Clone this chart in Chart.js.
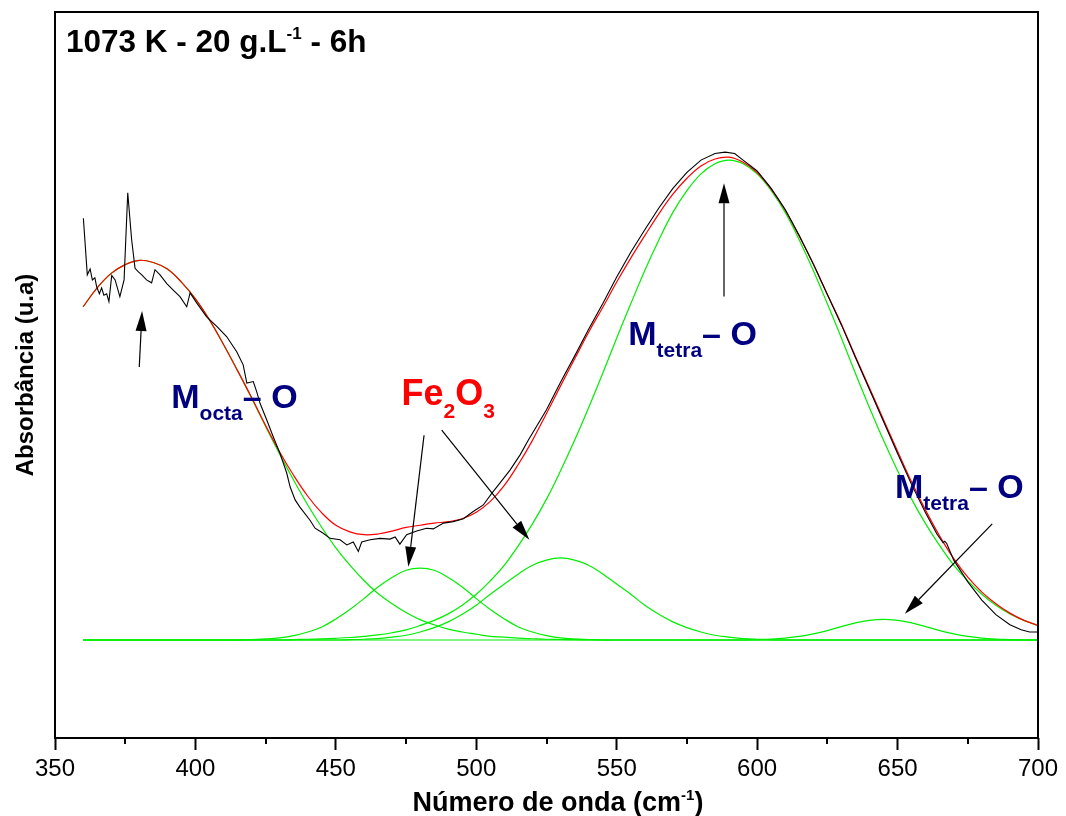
<!DOCTYPE html>
<html>
<head>
<meta charset="utf-8">
<script src="https://cdn.jsdelivr.net/npm/chart.js@4.4.1/dist/chart.umd.min.js"></script>
<style>
  html, body { margin: 0; padding: 0; background: #fff; }
</style>
</head>
<body>
<canvas id="myChart" width="1066" height="816"></canvas>
<script>
// wavenumber grid for the fitted curves (cm-1)
var wavenumbers = [360, 365, 370, 375, 380, 385, 390, 395, 400, 405, 410, 415, 420, 425, 430, 435, 440, 445, 450, 455,
  460, 465, 470, 475, 480, 485, 490, 495, 500, 505, 510, 515, 520, 525, 530, 535, 540, 545, 550, 555,
  560, 565, 570, 575, 580, 585, 590, 595, 600, 605, 610, 615, 620, 625, 630, 635, 640, 645, 650, 655,
  660, 665, 670, 675, 680, 685, 690, 695, 700];

// deconvoluted bands (green)
var octaBand = [59.4, 62.0, 64.0, 65.2, 65.8, 65.5, 64.6, 62.8, 60.5, 57.6, 54.2, 50.6, 46.8, 42.9, 39.1, 35.5, 32.1, 29.0, 26.2, 23.8,
  21.7, 19.9, 18.5, 17.3, 16.3, 15.6, 15.0, 14.6, 14.3, 14.0, 13.9, 13.75, 13.67, 13.6, 13.57, 13.54, 13.5, 13.5, 13.5, 13.5,
  13.5, 13.5, 13.5, 13.5, 13.5, 13.5, 13.5, 13.5, 13.5, 13.5, 13.5, 13.5, 13.5, 13.5, 13.5, 13.5, 13.5, 13.5, 13.5, 13.5,
  13.5, 13.5, 13.5, 13.5, 13.5, 13.5, 13.5, 13.5, 13.5];
var fe2o3BandA = [13.5, 13.5, 13.5, 13.5, 13.5, 13.5, 13.5, 13.5, 13.5, 13.5, 13.5, 13.5, 13.57, 13.65, 13.8, 14.1, 14.6, 15.3, 16.4, 17.7,
  19.2, 20.8, 22.1, 23.1, 23.4, 23.1, 22.1, 20.8, 19.2, 17.7, 16.4, 15.3, 14.6, 14.1, 13.8, 13.65, 13.57, 13.5, 13.5, 13.5,
  13.5, 13.5, 13.5, 13.5, 13.5, 13.5, 13.5, 13.5, 13.5, 13.5, 13.5, 13.5, 13.5, 13.5, 13.5, 13.5, 13.5, 13.5, 13.5, 13.5,
  13.5, 13.5, 13.5, 13.5, 13.5, 13.5, 13.5, 13.5, 13.5];
var fe2o3BandB = [13.5, 13.5, 13.5, 13.5, 13.5, 13.5, 13.5, 13.5, 13.5, 13.5, 13.5, 13.5, 13.5, 13.5, 13.5, 13.5, 13.5, 13.5, 13.5, 13.55,
  13.6, 13.7, 13.9, 14.15, 14.6, 15.2, 16.0, 17.05, 18.3, 19.8, 21.2, 22.6, 23.8, 24.5, 24.8, 24.5, 23.8, 22.6, 21.2, 19.8,
  18.3, 17.05, 16.0, 15.2, 14.6, 14.15, 13.9, 13.7, 13.6, 13.55, 13.5, 13.5, 13.5, 13.5, 13.5, 13.5, 13.5, 13.5, 13.5, 13.5,
  13.5, 13.5, 13.5, 13.5, 13.5, 13.5, 13.5, 13.5, 13.5];
var tetraBand = [13.5, 13.5, 13.5, 13.5, 13.5, 13.5, 13.5, 13.5, 13.5, 13.5, 13.5, 13.5, 13.5, 13.5, 13.5, 13.55, 13.6, 13.65, 13.73, 13.84,
  14.0, 14.2, 14.5, 14.9, 15.5, 16.2, 17.1, 18.3, 19.8, 21.65, 23.8, 26.5, 29.5, 32.9, 36.8, 41.0, 45.5, 50.2, 55.1, 59.8,
  64.4, 68.6, 72.4, 75.4, 77.7, 79.1, 79.6, 79.1, 77.7, 75.4, 72.4, 68.6, 64.4, 59.8, 55.1, 50.2, 45.5, 41.0, 36.8, 32.9,
  29.5, 26.5, 23.8, 21.65, 19.8, 18.3, 17.1, 16.2, 15.5];
var tetraSmallBand = [13.5, 13.5, 13.5, 13.5, 13.5, 13.5, 13.5, 13.5, 13.5, 13.5, 13.5, 13.5, 13.5, 13.5, 13.5, 13.5, 13.5, 13.5, 13.5, 13.5,
  13.5, 13.5, 13.5, 13.5, 13.5, 13.5, 13.5, 13.5, 13.5, 13.5, 13.5, 13.5, 13.5, 13.5, 13.5, 13.5, 13.5, 13.5, 13.5, 13.5,
  13.5, 13.5, 13.5, 13.5, 13.5, 13.5, 13.5, 13.5, 13.56, 13.63, 13.77, 14.0, 14.35, 14.8, 15.35, 15.85, 16.2, 16.35, 16.2, 15.85,
  15.35, 14.8, 14.35, 14.0, 13.77, 13.63, 13.56, 13.5, 13.5];

// cumulative fit (red)
var fitSum = [59.4, 62.0, 64.0, 65.2, 65.8, 65.5, 64.6, 62.8, 60.5, 57.6, 54.2, 50.6, 46.9, 43.05, 39.4, 36.15, 33.3, 31.0, 29.3, 28.4,
  28.0, 28.1, 28.5, 29.0, 29.3, 29.6, 29.8, 30.2, 31.1, 32.6, 34.8, 37.7, 41.0, 44.7, 48.5, 52.2, 55.9, 59.3, 62.8, 66.1,
  69.2, 72.2, 74.9, 77.1, 78.8, 79.75, 80.0, 79.3, 77.9, 75.6, 72.7, 69.1, 65.3, 61.1, 57.0, 52.55, 48.2, 43.85, 39.5, 35.25,
  31.35, 27.8, 24.7, 22.15, 20.1, 18.5, 17.2, 16.2, 15.5];

// measured spectrum (black)
var measuredX = [360.1, 361.5, 362.5, 363.3, 364.2, 364.8, 365.8, 366.6, 367.4, 368.4, 369.2, 370.2, 371.4, 373.1, 374.6, 375.9, 377.3, 378.5, 379.7, 380.9,
  382.6, 384.4, 385.6, 387.4, 389.8, 392.1, 394.5, 396.9, 398.1, 400.5, 404.0, 407.6, 411.1, 414.7, 417.0, 418.3, 420.6, 421.8, 423.0, 425.4,
  427.7, 430.1, 432.5, 433.7, 435.5, 437.2, 440.8, 442.6, 445.5, 447.9, 451.5, 453.9, 456.2, 458.0, 459.2, 462.2, 465.7, 469.3, 471.1, 472.8,
  475.2, 478.8, 482.3, 484.7, 488.3, 491.8, 495.4, 498.9, 502.5, 505.5, 508.4, 512.0, 515.6, 518.5, 525, 530, 535, 540, 545, 550,
  555, 560, 565, 570, 575, 580, 585, 588.6, 592, 595, 600, 605, 610, 615, 620, 625, 630, 635, 640, 645,
  650, 655, 660, 664, 666.2, 666.8, 667.5, 670, 675, 680, 685, 690, 694, 697, 700];
var measuredY = [71.6, 63.8, 64.6, 63.1, 63.4, 62.2, 61.2, 62.0, 61.0, 61.2, 60.1, 63.7, 63.1, 60.8, 63.1, 75.1, 68.6, 64.7, 64.2, 63.8,
  63.1, 62.7, 64.5, 63.8, 62.6, 61.7, 60.8, 59.4, 61.3, 59.9, 58.0, 56.7, 55.3, 53.2, 51.4, 48.9, 49.1, 47.7, 46.1, 43.8,
  41.5, 39.2, 36.5, 34.6, 32.8, 31.8, 30.0, 28.9, 28.2, 27.5, 27.3, 26.6, 27.0, 25.7, 27.0, 27.3, 27.5, 27.4, 27.7, 26.7,
  28.0, 28.5, 28.9, 28.8, 29.6, 29.8, 30.2, 31.2, 32.1, 33.7, 35.1, 36.9, 39.0, 41.0, 45.2, 49.0, 52.6, 56.3, 59.8, 63.5,
  66.9, 70.0, 73.0, 75.7, 77.9, 79.6, 80.5, 80.7, 80.5, 79.6, 78.1, 75.7, 72.8, 69.2, 65.3, 61.1, 56.9, 52.4, 48.0, 43.6,
  39.2, 34.9, 31.0, 28.1, 26.9, 27.1, 26.8, 24.5, 21.5, 19.0, 17.0, 15.6, 14.9, 14.6, 14.6];

var xTicks = [350, 400, 450, 500, 550, 600, 650, 700];

var FONT = '"Liberation Sans", Arial, Helvetica, sans-serif';
var NAVY = '#000080';

// annotation arrows [x1, y1, x2, y2] in data units, head at (x2, y2)
var arrowSpecs = [
  [380.0, 51.1, 381.0, 58.8],
  [481.4, 41.7, 475.8, 23.6],
  [487.7, 42.4, 518.9, 27.3],
  [588.2, 60.8, 588.2, 76.4],
  [683.7, 29.5, 652.6, 17.1]
];

// annotation labels, anchored at the left baseline (data units)
var labelSpecs = [
  { x: 391.4, y: 45.5, parts: [
    { text: 'M', size: 34, color: NAVY },
    { text: 'octa', size: 21, dy: 12, color: NAVY },
    { text: '\u2013 O', size: 34, color: NAVY }] },
  { x: 473.4, y: 45.9, parts: [
    { text: 'Fe', size: 36, color: '#ff0000' },
    { text: '2', size: 21, dy: 13, color: '#ff0000' },
    { text: 'O', size: 36, color: '#ff0000' },
    { text: '3', size: 21, dy: 13, color: '#ff0000' }] },
  { x: 554.1, y: 54.1, parts: [
    { text: 'M', size: 34, color: NAVY },
    { text: 'tetra', size: 21, dy: 12, color: NAVY },
    { text: '\u2013 O', size: 34, color: NAVY }] },
  { x: 649.1, y: 33.1, parts: [
    { text: 'M', size: 34, color: NAVY },
    { text: 'tetra', size: 21, dy: 12, color: NAVY },
    { text: '\u2013 O', size: 34, color: NAVY }] }
];

function pairs(xs, ys) {
  var out = [];
  for (var i = 0; i < xs.length; i++) out.push({ x: xs[i], y: ys[i] });
  return out;
}

function drawParts(ctx, x, y, parts) {
  ctx.textAlign = 'left';
  ctx.textBaseline = 'alphabetic';
  parts.forEach(function (p) {
    ctx.font = 'bold ' + p.size + 'px ' + FONT;
    ctx.fillStyle = p.color;
    ctx.fillText(p.text, x, y + (p.dy || 0));
    x += ctx.measureText(p.text).width;
  });
}

function partsWidth(ctx, parts) {
  var w = 0;
  parts.forEach(function (p) {
    ctx.font = 'bold ' + p.size + 'px ' + FONT;
    w += ctx.measureText(p.text).width;
  });
  return w;
}

function drawArrow(ctx, x1, y1, x2, y2) {
  var ang = Math.atan2(y2 - y1, x2 - x1);
  var len = 20, half = 5.5;
  var bx = x2 - len * Math.cos(ang), by = y2 - len * Math.sin(ang);
  ctx.strokeStyle = '#000';
  ctx.lineWidth = 1.2;
  ctx.beginPath();
  ctx.moveTo(x1, y1);
  ctx.lineTo(bx, by);
  ctx.stroke();
  ctx.fillStyle = '#000';
  ctx.beginPath();
  ctx.moveTo(x2, y2);
  ctx.lineTo(bx + half * Math.sin(ang), by - half * Math.cos(ang));
  ctx.lineTo(bx - half * Math.sin(ang), by + half * Math.cos(ang));
  ctx.closePath();
  ctx.fill();
}

var decorations = {
  id: 'decorations',
  afterDraw: function (chart) {
    var ctx = chart.ctx, area = chart.chartArea;
    var xs = chart.scales.x, ys = chart.scales.y;
    ctx.save();

    // frame
    ctx.strokeStyle = '#000';
    ctx.lineWidth = 2;
    ctx.strokeRect(area.left, area.top, area.right - area.left, area.bottom - area.top);

    // minor ticks
    for (var v = 375; v < 700; v += 50) {
      var px = Math.round(xs.getPixelForValue(v));
      ctx.beginPath();
      ctx.moveTo(px, area.bottom);
      ctx.lineTo(px, area.bottom + 6);
      ctx.stroke();
    }

    // arrows
    arrowSpecs.forEach(function (a) {
      drawArrow(ctx, xs.getPixelForValue(a[0]), ys.getPixelForValue(a[1]),
        xs.getPixelForValue(a[2]), ys.getPixelForValue(a[3]));
    });

    // band labels
    labelSpecs.forEach(function (l) {
      drawParts(ctx, xs.getPixelForValue(l.x), ys.getPixelForValue(l.y), l.parts);
    });

    // sample title in the corner
    drawParts(ctx, area.left + 11, area.top + 40, [
      { text: '1073 K - 20 g.L', size: 31.5, color: '#000' },
      { text: '-1', size: 17, dy: -13, color: '#000' },
      { text: ' - 6h', size: 31.5, color: '#000' }
    ]);

    // x axis title
    var xt = [
      { text: 'N\u00famero de onda (cm', size: 27, color: '#000' },
      { text: '-1', size: 15, dy: -11, color: '#000' },
      { text: ')', size: 27, color: '#000' }
    ];
    var w = partsWidth(ctx, xt);
    drawParts(ctx, 558 - w / 2, 811, xt);

    // y axis title
    ctx.translate(33, (area.top + area.bottom) / 2);
    ctx.rotate(-Math.PI / 2);
    ctx.font = 'bold 24px ' + FONT;
    ctx.fillStyle = '#000';
    ctx.textAlign = 'center';
    ctx.textBaseline = 'alphabetic';
    ctx.fillText('Absorb\u00e2ncia (u.a)', 0, 0);

    ctx.restore();
  }
};

var green = '#00ee00';
function band(values, label) {
  return {
    label: label,
    data: pairs(wavenumbers, values),
    borderColor: green,
    borderWidth: 1.2,
    tension: 0.4,
    order: 3
  };
}

var myChart = document.getElementById('myChart').getContext('2d');
var chart = new Chart(myChart, {
  type: 'line',
  data: {
    datasets: [
      {
        label: 'measured',
        data: pairs(measuredX, measuredY),
        borderColor: '#000',
        borderWidth: 1.1,
        tension: 0,
        order: 1
      },
      {
        label: 'fit',
        data: pairs(wavenumbers, fitSum),
        borderColor: '#ff0000',
        borderWidth: 1.2,
        tension: 0.4,
        order: 2
      },
      band(octaBand, 'M octa - O'),
      band(fe2o3BandA, 'Fe2O3 a'),
      band(fe2o3BandB, 'Fe2O3 b'),
      band(tetraBand, 'M tetra - O'),
      band(tetraSmallBand, 'M tetra - O (2)')
    ]
  },
  options: {
    responsive: false,
    animation: false,
    events: [],
    layout: { padding: { left: 55, right: 28, top: 12, bottom: 0 } },
    elements: { point: { radius: 0 } },
    plugins: {
      legend: { display: false },
      tooltip: { enabled: false }
    },
    scales: {
      x: {
        type: 'linear',
        min: 350,
        max: 700,
        afterBuildTicks: function (s) {
          s.ticks = xTicks.map(function (t) { return { value: t }; });
        },
        afterFit: function (s) { s.height = 78; },
        grid: { drawOnChartArea: false, drawTicks: true, tickLength: 12, tickWidth: 2, tickColor: '#000' },
        border: { display: false },
        ticks: { color: '#000', font: { family: FONT, size: 24 }, padding: 5, maxRotation: 0, autoSkip: false }
      },
      y: { display: false, min: 0, max: 100 }
    }
  },
  plugins: [decorations]
});
</script>
</body>
</html>
